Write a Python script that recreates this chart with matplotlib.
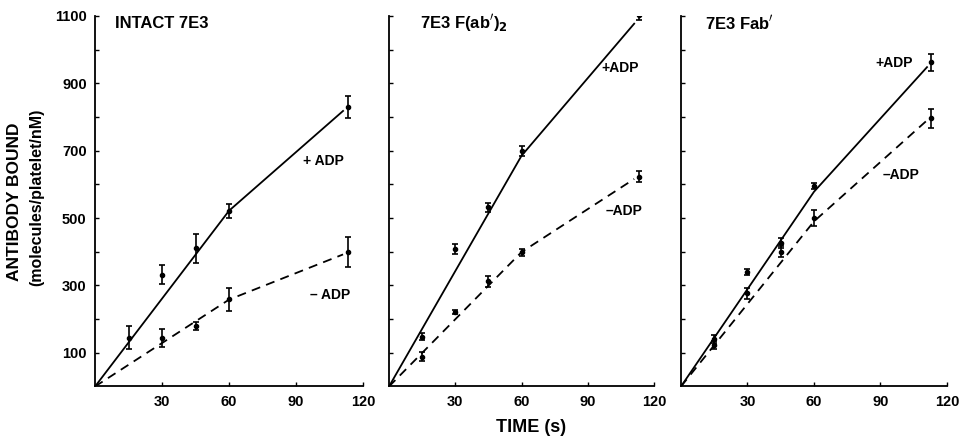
import matplotlib
matplotlib.use("Agg")
import matplotlib.pyplot as plt

plt.rcParams['font.family'] = ['Liberation Sans', 'DejaVu Sans']
plt.rcParams['font.weight'] = 'bold'

# ---- data ----
time = [15, 30, 45, 60, 113]
time_minus_intact = [30, 45, 60, 113]

intact_plus = [145, 332, 410, 520, 829]
intact_plus_err = [34, 28, 43, 21, 33]
intact_minus = [145, 180, 259, 400]
intact_minus_err = [27, 12, 34, 45]

fab2_plus = [148, 409, 532, 700, 1104]
fab2_plus_err = [11, 15, 13, 15, 16]
fab2_minus = [89, 220, 312, 398, 623]
fab2_minus_err = [12, 6, 16, 11, 16]

fab_plus = [141, 340, 426, 595, 963]
fab_plus_err = [12, 10, 15, 10, 25]
fab_minus = [123, 277, 400, 500, 796]
fab_minus_err = [12, 16, 16, 24, 29]

# fitted (hand-drawn) lines: knots
fit_t = [0, 60, 111]
intact_plus_fit = [0, 522, 818]
intact_minus_fit = [0, 258, 392]
fab2_plus_fit = [0, 685, 1077]
fab2_minus_fit = [0, 399, 616]
fab_plus_fit = [0, 578, 948]
fab_minus_fit = [0, 490, 790]

titles = ["INTACT 7E3", "7E3 F(ab$^{\\prime}$)$_2$", "7E3 Fab$^{\\prime}$"]
title_x = [9, 14, 10.8]
yticks = [100, 300, 500, 700, 900, 1100]
xticks = [30, 60, 90, 120]

panels = [
    dict(tp=time, p=intact_plus, pe=intact_plus_err, tm=time_minus_intact, m=intact_minus, me=intact_minus_err,
         pf=intact_plus_fit, mf=intact_minus_fit, plab=("+ ADP", 93, 668), mlab=("\u2013 ADP", 96, 272)),
    dict(tp=time, p=fab2_plus, pe=fab2_plus_err, tm=time, m=fab2_minus, me=fab2_minus_err,
         pf=fab2_plus_fit, mf=fab2_minus_fit, plab=("+ADP", 96, 944), mlab=("\u2013ADP", 98, 520)),
    dict(tp=time, p=fab_plus, pe=fab_plus_err, tm=time, m=fab_minus, me=fab_minus_err,
         pf=fab_plus_fit, mf=fab_minus_fit, plab=("+ADP", 87.5, 960), mlab=("\u2013ADP", 91, 627)),
]

fig = plt.figure(figsize=(9.61, 4.38), dpi=100)
lefts = [0.0989, 0.4048, 0.7086]
widths = [0.279, 0.2758, 0.2768]
bottom, height = 0.1176, 0.846

for i, pan in enumerate(panels):
    ax = fig.add_axes([lefts[i], bottom, widths[i], height])
    ax.plot(fit_t, pan['pf'], color='black', lw=1.3, ls='-')
    ax.plot(fit_t, pan['mf'], color='black', lw=1.3, ls=(0, (5, 3.5)))
    ax.errorbar(pan['tp'], pan['p'], yerr=pan['pe'], fmt='o', ms=3, color='black',
                ecolor='black', elinewidth=1.2, capsize=2.5, capthick=1.2)
    ax.errorbar(pan['tm'], pan['m'], yerr=pan['me'], fmt='o', ms=3, color='black',
                ecolor='black', elinewidth=1.2, capsize=2.5, capthick=1.2)
    ax.set_xlim(0, 120)
    ax.set_ylim(0, 1100)
    ax.spines['top'].set_visible(False)
    ax.spines['right'].set_visible(False)
    for s in ('left', 'bottom'):
        ax.spines[s].set_linewidth(1.3)
    ax.set_xticks(xticks)
    ax.set_yticks(range(100, 1101, 100))
    ax.tick_params(direction='in', length=3, width=1, labelsize=10.5)
    for lab in ax.get_xticklabels():
        lab.set_fontweight('bold')
    if i == 0:
        ax.set_yticklabels([str(v) if v in yticks else '' for v in range(100, 1101, 100)],
                           fontweight='bold')
    else:
        ax.set_yticklabels([])
    ax.tick_params(axis='x', pad=6)
    ax.tick_params(axis='y', pad=6)
    ax.text(title_x[i], 1078, titles[i], fontsize=12, fontweight='bold', va='center', ha='left')
    t, x, y = pan['plab']
    ax.text(x, y, t, fontsize=10, fontweight='bold', va='center', ha='left')
    t, x, y = pan['mlab']
    ax.text(x, y, t, fontsize=10, fontweight='bold', va='center', ha='left')

fig.text(0.015, 1 - 202 / 438, "ANTIBODY BOUND", rotation=90, fontsize=12.5, fontweight='bold',
         ha='center', va='center')
fig.text(0.038, 1 - 197 / 438, "(molecules/platelet/nM)", rotation=90, fontsize=11.5,
         fontweight='bold', ha='center', va='center')
fig.text(531 / 961, 1 - 428 / 438, "TIME (s)", fontsize=13, fontweight='bold',
         ha='center', va='center')

fig.savefig("out.png", dpi=100)
